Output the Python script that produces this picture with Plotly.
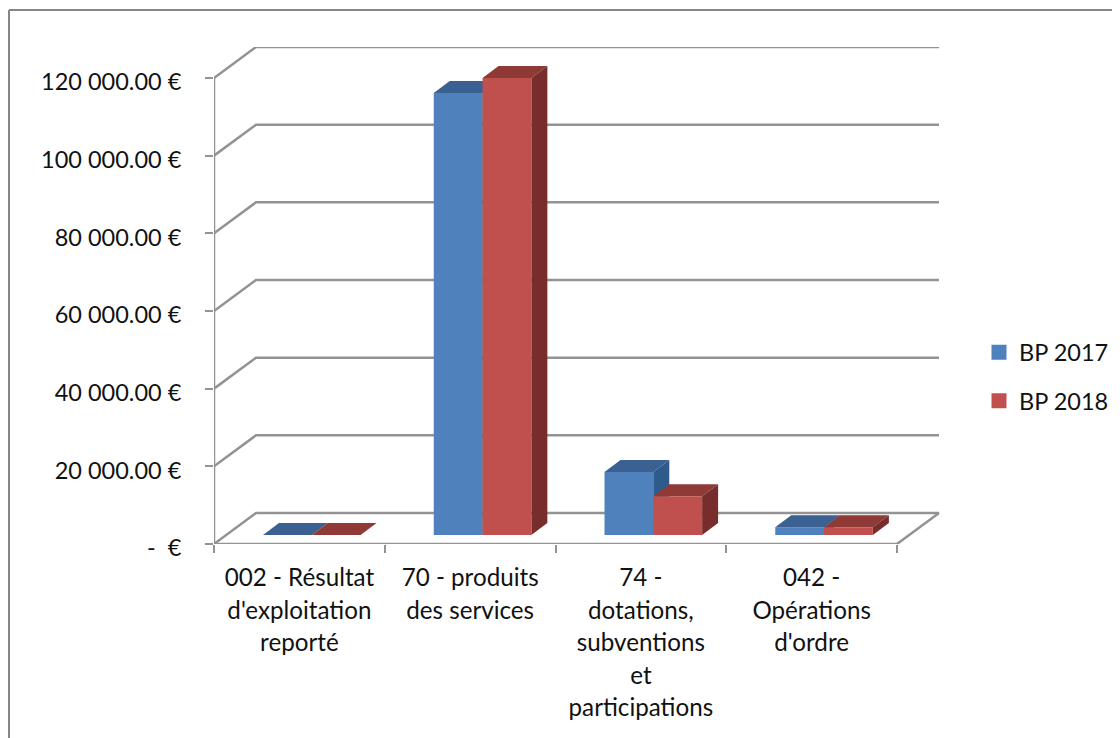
import plotly.graph_objects as go

# ---- data ----
categories = ["002 - Résultat<br>d'exploitation<br>reporté",
              "70 - produits<br>des services",
              "74 -<br>dotations,<br>subventions<br>et<br>participations",
              "042 -<br>Opérations<br>d'ordre"]
bp2017 = [0, 113800, 16200, 2000]
bp2018 = [0, 117700, 10000, 2000]
series_names = ["BP 2017", "BP 2018"]
y_ticks = [0, 20000, 40000, 60000, 80000, 100000, 120000]
y_labels = ["-\u00a0\u00a0€", "20 000.00 €", "40 000.00 €", "60 000.00 €",
            "80 000.00 €", "100 000.00 €", "120 000.00 €"]

# ---- styling ----
PAGE_MARGIN = 8  # the browser's default body margin
W, H = 1120 - PAGE_MARGIN, 738 - PAGE_MARGIN
FONT = "Lato"
TEXT_PX = 23.5
CAT_PX = 24.2
LINE_PX = 25  # sets the 1.3em line height of multi-line labels
BLUE, BLUE_TOP, BLUE_SIDE = "#4F81BD", "#3A6192", "#2F5A8C"
RED, RED_TOP, RED_SIDE = "#C0504D", "#8F3A37", "#772D2B"
GRID = "#939393"
FRAME = "#868686"


def fx(px):
    return (px - PAGE_MARGIN) / W


def fy(px):
    return 1 - (px - PAGE_MARGIN) / H


# ---- geometry (pixels in the page) mapped to axis domains ----
PX_LEFT, PX_RIGHT, PX_TOP, PX_BOTTOM = 214, 940, 47, 544
PX_PER_CAT = 170.75
PX_PER_EURO = (544 - 78) / 120000
xr = [0, (PX_RIGHT - PX_LEFT) / PX_PER_CAT]
yr = [0, (PX_BOTTOM - PX_TOP) / PX_PER_EURO]
dom_x = [fx(PX_LEFT), fx(PX_RIGHT)]
dom_y = [fy(PX_BOTTOM), fy(PX_TOP)]


def ux(px):
    return px / PX_PER_CAT


def uy(px):
    return px / PX_PER_EURO


WALL_DX, WALL_DY = ux(42), uy(31)
BAR_W = ux(48.8)
FIRST_LEFT = ux(49)
BASE = uy(9)
DEPTH_X, DEPTH_Y = ux(16), uy(12)

fig = go.Figure()


def poly(xs, ys, color, axes):
    fig.add_trace(go.Scatter(x=xs, y=ys, mode="lines", fill="toself", fillcolor=color,
                             line=dict(width=0), hoverinfo="skip", showlegend=False,
                             xaxis=axes[0], yaxis=axes[1], cliponaxis=False))


def path(xs, ys):
    fig.add_trace(go.Scatter(x=xs, y=ys, mode="lines", line=dict(color=GRID, width=2.5),
                             hoverinfo="skip", showlegend=False, cliponaxis=False))


# walls
n = len(categories)
for t in y_ticks:
    path([0, WALL_DX, n + WALL_DX], [t, t + WALL_DY, t + WALL_DY])
path([n, n + WALL_DX], [0, WALL_DY])
path([0, n], [0, 0])
path([0, 0], [0, max(y_ticks)])


def faces(i, s, value, top_c, side_c, axes):
    left = i + FIRST_LEFT + s * BAR_W
    right = left + BAR_W
    top = BASE + value
    poly([left, right, right + DEPTH_X, left + DEPTH_X, left],
         [top, top, top + DEPTH_Y, top + DEPTH_Y, top], top_c, axes)
    poly([right, right + DEPTH_X, right + DEPTH_X, right, right],
         [BASE, BASE + DEPTH_Y, top + DEPTH_Y, top, BASE], side_c, axes)


centres = [[i + FIRST_LEFT + (s + 0.5) * BAR_W for i in range(n)] for s in range(2)]

# middle layer: blue fronts + all top/side faces
fig.add_trace(go.Bar(x=centres[0], y=bp2017, base=BASE, width=BAR_W, marker=dict(color=BLUE, line=dict(width=0)),
                     showlegend=False, name=series_names[0], xaxis="x2", yaxis="y2"))
for i, v in enumerate(bp2017):
    faces(i, 0, v, BLUE_TOP, BLUE_SIDE, ("x2", "y2"))
for i, v in enumerate(bp2018):
    faces(i, 1, v, RED_TOP, RED_SIDE, ("x2", "y2"))
# top layer: red fronts cover the blue side faces
fig.add_trace(go.Bar(x=centres[1], y=bp2018, base=BASE, width=BAR_W, marker=dict(color=RED, line=dict(width=0)),
                     showlegend=False, name=series_names[1], xaxis="x3", yaxis="y3"))

# legend entries
for name, col in zip(series_names, [BLUE, RED]):
    fig.add_trace(go.Scatter(x=[None], y=[None], mode="markers", name=name, legendgroup=name,
                             marker=dict(symbol="square", size=15, color=col, line=dict(width=0))))


def sized(label):
    span = f'<span style="font-size:{CAT_PX}px">'
    return span + label.replace("<br>", f"</span><br>{span}") + "</span>"


fig.update_layout(
    width=W, height=H, margin=dict(l=0, r=0, t=0, b=0),
    paper_bgcolor="white", plot_bgcolor="rgba(0,0,0,0)",
    font=dict(family=FONT, size=TEXT_PX, color="#111111"),
    hovermode=False,
    legend=dict(x=fx(979), y=fy(330.5), xanchor="left", yanchor="top", tracegroupgap=15,
                font=dict(size=TEXT_PX), itemwidth=30, bgcolor="rgba(0,0,0,0)"),
    xaxis=dict(domain=dom_x, range=xr, showgrid=False, zeroline=False, showline=False, automargin=False,
               tickmode="array", tickvals=[i + 0.5 for i in range(n)],
               ticktext=[sized(c) for c in categories],
               tickfont=dict(size=LINE_PX), ticks="", ticklabelstandoff=16,
               minor=dict(tickmode="array", tickvals=list(range(n + 1)), ticks="outside", ticklen=8,
                          tickwidth=2, tickcolor=GRID, showgrid=False)),
    yaxis=dict(domain=dom_y, range=yr, showgrid=False, zeroline=False, showline=False, automargin=False,
               tickmode="array", tickvals=y_ticks, ticktext=y_labels, ticks="outside", ticklen=8,
               tickwidth=2, tickcolor=GRID, ticklabelstandoff=19, ticklabelshift=4),
    xaxis2=dict(domain=dom_x, range=xr, overlaying="x", visible=False),
    yaxis2=dict(domain=dom_y, range=yr, overlaying="y", visible=False),
    xaxis3=dict(domain=dom_x, range=xr, overlaying="x", visible=False),
    yaxis3=dict(domain=dom_y, range=yr, overlaying="y", visible=False),
    shapes=[dict(type="line", xref="paper", yref="paper", x0=fx(9), x1=fx(9), y0=0, y1=fy(10),
                 line=dict(color=FRAME, width=2)),
            dict(type="line", xref="paper", yref="paper", x0=fx(9), x1=1, y0=fy(10), y1=fy(10),
                 line=dict(color=FRAME, width=2))],
)
fig.write_html("out.html")
